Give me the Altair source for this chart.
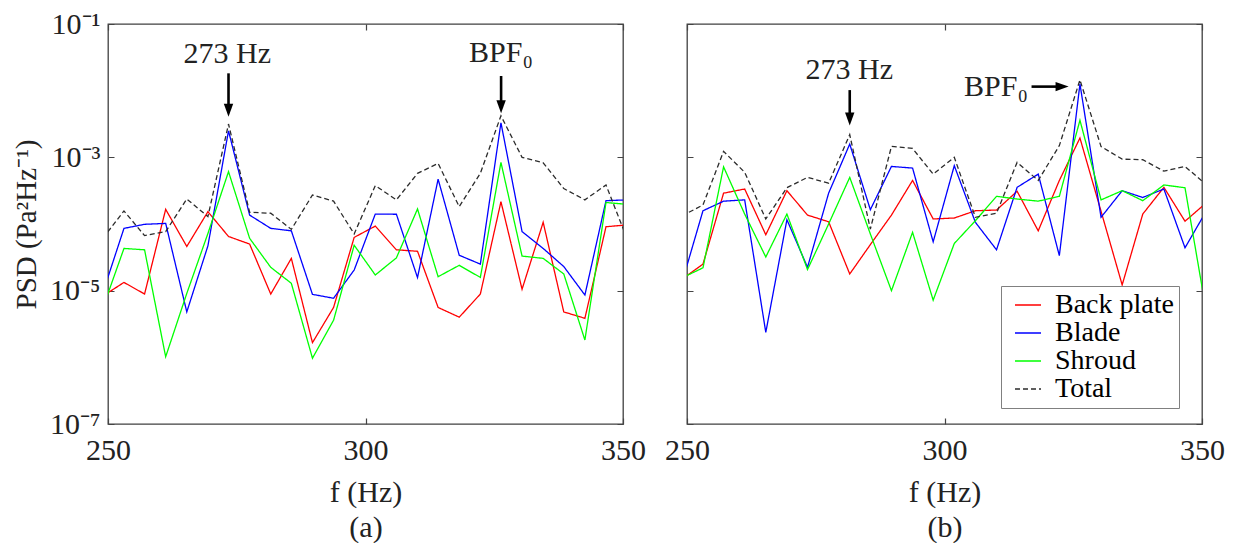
import altair as alt
import pandas as pd

FONT = "Liberation Serif"
TXT = "#222222"

# frequency bins (Hz)
freq = [249.0, 253.1, 257.1, 261.2, 265.3, 269.4, 273.4, 277.5, 281.6, 285.6,
        289.7, 293.8, 297.8, 301.9, 306.0, 310.1, 314.1, 318.2, 322.3, 326.3,
        330.4, 334.5, 338.5, 342.6, 346.7, 350.8]

series = ["Back plate", "Blade", "Shroud", "Total"]
colors = ["#ff0000", "#0000ff", "#00ff00", "#2b2b2b"]
dashes = [[1, 0], [1, 0], [1, 0], [5, 3]]

# ---- panel (a) ----
a_back = [8.3e-6, 1.33e-5, 8.9e-6, 1.66e-4, 4.6e-5, 1.53e-4, 6.5e-5, 5.0e-5, 8.9e-6, 3.05e-5,
          1.66e-6, 5.6e-6, 6.3e-5, 9.3e-5, 4.1e-5, 3.9e-5, 5.6e-6, 4.0e-6, 8.9e-6, 2.16e-4,
          1.05e-5, 1.06e-4, 4.8e-6, 3.85e-6, 9.1e-5, 9.7e-5]
a_blade = [9.3e-6, 8.6e-5, 9.9e-5, 1.02e-4, 4.8e-6, 4.7e-5, 2.5e-3, 1.36e-4, 8.6e-5, 7.9e-5,
           8.8e-6, 7.7e-6, 2.04e-5, 1.41e-4, 1.40e-4, 1.57e-5, 4.7e-4, 3.4e-5, 2.5e-5, 3.3e-3,
           7.7e-5, 4.3e-5, 2.3e-5, 8.6e-6, 2.24e-4, 2.3e-4]
a_shroud = [5.5e-6, 4.3e-5, 4.1e-5, 1.02e-6, 9.1e-6, 7.2e-5, 6.1e-4, 6.1e-5, 2.24e-5, 1.29e-5,
            9.7e-7, 3.6e-6, 4.8e-5, 1.72e-5, 3.1e-5, 1.68e-4, 1.62e-5, 2.4e-5, 1.58e-5, 8.4e-4,
            3.3e-5, 3.05e-5, 1.78e-5, 1.82e-6, 2.1e-4, 1.97e-4]
a_total = [6.1e-5, 1.57e-4, 6.7e-5, 7.7e-5, 2.37e-4, 1.29e-4, 3.16e-3, 1.5e-4, 1.45e-4, 8.3e-5,
           2.72e-4, 2.2e-4, 7.1e-5, 3.76e-4, 2.3e-4, 5.75e-4, 8.1e-4, 1.82e-4, 5.75e-4, 4.2e-3,
           1.0e-3, 8.3e-4, 3.4e-4, 2.3e-4, 3.85e-4, 6.0e-5]

# ---- panel (b) ----
b_back = [1.48e-5, 2.5e-5, 2.9e-4, 3.35e-4, 6.9e-5, 3.16e-4, 1.36e-4, 1.08e-4, 1.78e-5, 4.9e-5,
          1.36e-4, 4.5e-4, 1.19e-4, 1.23e-4, 1.58e-4, 1.62e-4, 3.1e-4, 7.9e-5, 4.5e-4, 1.95e-3,
          1.55e-4, 1.22e-5, 1.41e-4, 3.55e-4, 1.1e-4, 2.07e-4]
b_blade = [1.3e-5, 1.58e-4, 2.2e-4, 2.3e-4, 2.37e-6, 1.16e-4, 2.24e-5, 2.9e-4, 1.58e-3, 1.64e-4,
           7.3e-4, 6.9e-4, 5.4e-5, 7.5e-4, 1.06e-4, 4.1e-5, 3.55e-4, 5.6e-4, 3.35e-5, 1.26e-2,
           1.26e-4, 3.16e-4, 2.5e-4, 3.35e-4, 4.4e-5, 1.55e-4]
b_shroud = [1.55e-5, 2.2e-5, 7.2e-4, 1.41e-4, 3.2e-5, 1.41e-4, 2.07e-5, 1.0e-4, 5.0e-4, 7.1e-5,
            1.0e-5, 7.5e-5, 7.2e-6, 5.1e-5, 1.12e-4, 2.6e-4, 2.37e-4, 2.2e-4, 2.6e-4, 3.6e-3,
            2.3e-4, 3.16e-4, 2.24e-4, 3.85e-4, 3.5e-4, 5.0e-6]
b_total = [1.32e-4, 1.93e-4, 1.23e-3, 5.96e-4, 1.19e-4, 3.5e-4, 5.0e-4, 4.1e-4, 2.19e-3, 8.4e-5,
           1.46e-3, 1.36e-3, 5.6e-4, 1.0e-3, 1.26e-4, 1.45e-4, 8.4e-4, 4.5e-4, 1.5e-3, 1.45e-2,
           1.45e-3, 9.4e-4, 9.2e-4, 6.2e-4, 7.3e-4, 3.9e-4]

# axis ticks
x_ticks = [250, 300, 350]
y_ticks = [1e-7, 1e-5, 1e-3, 1e-1]
y_tick_labels = ["10⁻⁷", "10⁻⁵", "10⁻³", "10⁻¹"]

# annotations (data coordinates)
a_ann_text = ["273 Hz", "BPF₀"]
a_ann_f = [273.15, 326.3]
a_ann_psd = [3.6e-2, 3.7e-2]
a_arrow_f = [273.4, 326.33]
a_arrow_tail = [1.82e-2, 1.66e-2]
a_arrow_tip = [4.07e-3, 4.57e-3]

b_ann_text = ["273 Hz", "BPF₀"]
b_ann_f = [281.5, 310.0]
b_ann_psd = [2.05e-2, 1.15e-2]
b_varrow_f = [281.6]
b_varrow_tail = [1.02e-2]
b_varrow_tip = [2.99e-3]
b_harrow_psd = [1.15e-2]
b_harrow_tail = [316.9]
b_harrow_tip = [324.1]

HEAD_DOWN = "M-0.36,-1L0.36,-1L0,0Z"
HEAD_RIGHT = "M-1,-0.36L-1,0.36L0,0Z"

label_expr = " : ".join(
    [f"datum.value < {v * 3:.0e} ? '{t}'" for v, t in zip(y_ticks[:-1], y_tick_labels[:-1])]
) + f" : '{y_tick_labels[-1]}'"


def long_df(vals_list):
    rows = []
    for name, vals in zip(series, vals_list):
        for f, v in zip(freq, vals):
            rows.append({"f": f, "psd": v, "series": name})
    return pd.DataFrame(rows)


def enc_xy(tag, show_y):
    x_axis = alt.Axis(values=x_ticks, format="d", title=["f (Hz)", tag],
                      grid=True, gridDash=[6, 388], gridColor="#444444", gridWidth=1.2,
                      domain=False, ticks=False, labelFont=FONT, labelFontSize=30,
                      labelColor=TXT, labelPadding=11, titleFont=FONT, titleFontSize=30,
                      titleFontWeight="normal", titleColor=TXT, titleLineHeight=35,
                      titlePadding=12, labelFlush=False)
    if show_y:
        y_axis = alt.Axis(values=y_ticks, labelExpr=label_expr, title="PSD (Pa²Hz⁻¹)",
                          grid=True, gridDash=[6, 503], gridColor="#444444", gridWidth=1.2,
                          domain=False, ticks=False, labelFont=FONT, labelFontSize=30,
                          labelColor=TXT, labelPadding=8, titleFont=FONT, titleFontSize=29,
                          titleFontWeight="normal", titleColor=TXT, titlePadding=8,
                          labelFlush=False)
    else:
        y_axis = alt.Axis(values=y_ticks, labels=False, title="", grid=True,
                          gridDash=[6, 503], gridColor="#444444", gridWidth=1.2,
                          domain=False, ticks=False, minExtent=0, maxExtent=0)
    xs = alt.Scale(domain=[250, 350], nice=False, zero=False)
    ys = alt.Scale(type="log", domain=[1e-7, 1e-1], nice=False)
    return xs, ys, x_axis, y_axis


def panel(vals_list, tag, show_y, show_legend, ann, varrows, harrows=None):
    xs, ys, x_axis, y_axis = enc_xy(tag, show_y)
    X = alt.X("f:Q", scale=xs, axis=x_axis)
    Y = alt.Y("psd:Q", scale=ys, axis=y_axis)
    if show_legend:
        leg = alt.Legend(title=None, orient="none", legendX=314, legendY=262,
                         symbolType="stroke", symbolSize=676, symbolStrokeWidth=1.3,
                         labelFont=FONT, labelFontSize=28, labelColor="black",
                         strokeColor="#808080", fillColor="white", padding=5,
                         rowPadding=0, labelOffset=13, symbolOffset=8)
        color = alt.Color("series:N", scale=alt.Scale(domain=series, range=colors), legend=leg)
        dash = alt.StrokeDash("series:N", scale=alt.Scale(domain=series, range=dashes), legend=leg)
    else:
        color = alt.Color("series:N", scale=alt.Scale(domain=series, range=colors), legend=None)
        dash = alt.StrokeDash("series:N", scale=alt.Scale(domain=series, range=dashes), legend=None)

    lines = alt.Chart(long_df(vals_list)).mark_line(clip=True, strokeWidth=1.3).encode(
        x=X, y=Y, color=color, strokeDash=dash, order=alt.Order("series:N"))

    text_df = pd.DataFrame({"f": ann[1], "psd": ann[2], "label": ann[0]})
    texts = alt.Chart(text_df).mark_text(font=FONT, fontSize=30, color=TXT,
                                         align="center", baseline="middle").encode(
        x=X, y=Y, text="label:N")

    vf, vtail, vtip = varrows
    shaft_df = pd.DataFrame({"f": vf, "psd": vtail, "psd2": [t * 10 ** 0.12 for t in vtip]})
    shafts = alt.Chart(shaft_df).mark_rule(color="black", strokeWidth=2.6).encode(
        x=X, y=Y, y2="psd2:Q")
    head_df = pd.DataFrame({"f": vf, "psd": vtip})
    heads = alt.Chart(head_df).mark_point(shape=HEAD_DOWN, filled=True, opacity=1,
                                          color="black", size=680, strokeWidth=0).encode(x=X, y=Y)
    layers = [lines, shafts, heads, texts]
    if harrows is not None:
        hy, htail, htip = harrows
        hs_df = pd.DataFrame({"f": htail, "f2": [t - 1.6 for t in htip], "psd": hy})
        hshaft = alt.Chart(hs_df).mark_rule(color="black", strokeWidth=2.6).encode(
            x=X, x2="f2:Q", y=Y)
        hh_df = pd.DataFrame({"f": htip, "psd": hy})
        hhead = alt.Chart(hh_df).mark_point(shape=HEAD_RIGHT, filled=True, opacity=1,
                                            color="black", size=680, strokeWidth=0).encode(x=X, y=Y)
        layers += [hshaft, hhead]
    return alt.layer(*layers).properties(width=515, height=400)


pa = panel([a_back, a_blade, a_shroud, a_total], "(a)", True, False,
           (a_ann_text, a_ann_f, a_ann_psd), (a_arrow_f, a_arrow_tail, a_arrow_tip))
pb = panel([b_back, b_blade, b_shroud, b_total], "(b)", False, True,
           (b_ann_text, b_ann_f, b_ann_psd), (b_varrow_f, b_varrow_tail, b_varrow_tip),
           (b_harrow_psd, b_harrow_tail, b_harrow_tip))

chart = alt.hconcat(pa, pb, spacing=16).resolve_scale(
    color="independent", strokeDash="independent"
).resolve_legend(color="independent", strokeDash="independent").properties(
    padding={"left": 3, "top": 0, "right": 0, "bottom": 0}
).configure_view(stroke="#404040", strokeWidth=1.3)

chart.save("out.html", embed_options={"renderer": "svg", "actions": False})
